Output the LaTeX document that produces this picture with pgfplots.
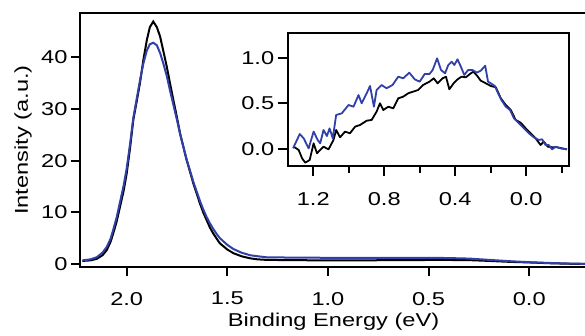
\documentclass[border=0pt]{standalone}
\usepackage{pgfplots}
\pgfplotsset{compat=1.18}
\usepackage{fontspec}
\setmainfont{Liberation Sans}[FakeStretch=1.27]
\definecolor{myblue}{RGB}{48,64,168}
\pgfplotsset{
  myax/.style={
    scale only axis,
    x dir=reverse,
    axis line style={line width=2pt, black},
    tick style={line width=2pt, black},
    tick align=outside,
    xtick pos=bottom, ytick pos=left,
    /pgf/number format/assume math mode=true,
    /pgf/number format/fixed,
    /pgf/number format/fixed zerofill,
    /pgf/number format/precision=1,
    tick label style={font=\fontsize{18.6}{22}\selectfont},
    label style={font=\fontsize{18.6}{22}\selectfont},
    clip=false,
  }
}
\begin{document}
\begin{tikzpicture}
\path[use as bounding box] (0pt,0pt) rectangle (585pt,335pt);
\begin{axis}[myax,
  at={(80pt,68pt)}, anchor=south west,
  width=507pt, height=254pt,
  xmin=-0.287, xmax=2.232, ymin=-0.58, ymax=48.55,
  xtick={0,0.5,1,1.5,2},
  ytick={0,10,20,30,40},
  yticklabel style={/pgf/number format/precision=0, /pgf/number format/fixed zerofill=false},
  xticklabel style={yshift=-12.5pt},
  major tick length=9pt,
  xlabel={Binding Energy (eV)},
  ylabel={Intensity (a.u.)},
  xlabel style={at={(axis description cs:0.5,0)}, anchor=north, yshift=-42.5pt},
  ylabel style={at={(axis description cs:-0.1124,0.5)}, anchor=center},
  every axis plot/.append style={line width=2pt},
]
\addplot[black] coordinates {
(2.22,0.6)(2.18,0.7)(2.149,1.0)(2.12,1.7)(2.099,2.7)(2.08,4.3)(2.067,5.9)(2.05,8.2)
(2.033,11.1)(2.015,14.2)(2.0,17.5)(1.983,22.5)(1.967,27.9)(1.95,31.5)(1.934,35.0)
(1.917,39.5)(1.9,43.3)(1.885,45.8)(1.868,46.9)(1.85,45.8)(1.834,44.0)(1.818,41.2)
(1.801,38.2)(1.785,35.0)(1.768,31.7)(1.751,28.5)(1.735,25.3)(1.718,22.6)(1.702,20.1)
(1.685,17.8)(1.669,15.6)(1.652,13.6)(1.636,11.7)(1.62,10.0)(1.603,8.5)(1.587,7.1)
(1.570,5.9)(1.553,4.9)(1.537,4.0)(1.5,2.8)(1.47,2.1)(1.43,1.5)(1.387,1.1)(1.35,0.9)
(1.305,0.8)(1.2,0.75)(1.0,0.7)(0.8,0.72)(0.6,0.75)(0.5,0.78)(0.4,0.78)(0.3,0.75)
(0.2,0.6)(0.1,0.42)(0.0,0.3)(-0.1,0.15)(-0.2,0.05)(-0.287,0.0)
};
\addplot[myblue] coordinates {
(2.22,0.7)(2.18,0.9)(2.149,1.3)(2.12,2.2)(2.099,3.3)(2.08,4.9)(2.067,6.6)(2.05,9.0)
(2.033,12.0)(2.015,15.2)(2.0,18.5)(1.983,23.3)(1.967,28.3)(1.95,32.0)(1.934,35.5)
(1.917,38.8)(1.9,41.3)(1.885,42.5)(1.868,42.8)(1.85,42.3)(1.834,40.8)(1.818,38.8)
(1.801,36.4)(1.785,33.6)(1.768,30.8)(1.751,28.0)(1.735,25.2)(1.718,22.6)(1.702,20.2)
(1.685,18.0)(1.669,15.9)(1.652,14.0)(1.636,12.2)(1.62,10.6)(1.603,9.1)(1.587,7.9)
(1.570,6.8)(1.553,5.8)(1.537,5.0)(1.5,3.7)(1.47,2.9)(1.43,2.2)(1.387,1.7)(1.35,1.5)
(1.305,1.3)(1.2,1.25)(1.0,1.2)(0.8,1.2)(0.6,1.2)(0.5,1.2)(0.4,1.15)(0.3,1.05)
(0.2,0.8)(0.1,0.55)(0.0,0.35)(-0.1,0.2)(-0.2,0.08)(-0.287,0.03)
};
\end{axis}
\begin{axis}[myax,
  at={(287.7pt,169.3pt)}, anchor=south west,
  width=281.6pt, height=132.4pt,
  axis background/.style={fill=white},
  xmin=-0.243, xmax=1.344, ymin=-0.183, ymax=1.267,
  xtick={0,0.4,0.8,1.2},
  minor xtick={-0.2,0.2,0.6,1.0},
  ytick={0,0.5,1},
  xticklabel style={yshift=-13.5pt},
  major tick length=10pt,
  minor tick length=7pt,
  every axis plot/.append style={line width=1.8pt, line join=round},
]
\addplot[black] coordinates {
(1.310,0.025)(1.282,-0.011)(1.263,-0.102)(1.245,-0.150)(1.220,-0.120)(1.198,0.062)
(1.179,-0.047)(1.161,-0.011)(1.142,0.025)(1.114,-0.004)(1.086,0.099)(1.071,0.208)
(1.049,0.128)(1.021,0.190)(0.993,0.172)(0.964,0.245)(0.936,0.263)(0.899,0.310)
(0.871,0.318)(0.843,0.409)(0.824,0.5)(0.805,0.427)(0.777,0.463)(0.749,0.445)
(0.721,0.555)(0.693,0.573)(0.665,0.610)(0.637,0.628)(0.609,0.646)(0.581,0.701)
(0.545,0.737)(0.521,0.774)(0.499,0.719)(0.471,0.774)(0.452,0.792)(0.433,0.654)
(0.409,0.719)(0.387,0.763)(0.364,0.792)(0.340,0.785)(0.312,0.829)(0.297,0.847)
(0.276,0.800)(0.256,0.748)(0.227,0.719)(0.199,0.690)(0.171,0.676)(0.143,0.555)
(0.115,0.482)(0.087,0.427)(0.059,0.318)(0.031,0.288)(0.003,0.227)(-0.025,0.172)
(-0.053,0.117)(-0.081,0.044)(-0.099,0.080)(-0.122,0.025)(-0.146,0.019)(-0.174,0.019)
(-0.202,0.007)(-0.230,-0.004)
};
\addplot[myblue] coordinates {
(1.314,0.007)(1.276,0.164)(1.254,0.117)(1.226,0.007)(1.198,0.19)(1.175,0.099)
(1.161,0.062)(1.142,0.208)(1.123,0.142)(1.108,0.226)(1.090,0.117)(1.071,0.372)
(1.039,0.391)(1.001,0.482)(0.973,0.463)(0.945,0.591)(0.927,0.5)(0.899,0.610)
(0.880,0.690)(0.858,0.463)(0.843,0.646)(0.815,0.701)(0.787,0.665)(0.753,0.701)
(0.721,0.792)(0.693,0.774)(0.659,0.836)(0.628,0.763)(0.600,0.737)(0.572,0.821)
(0.545,0.821)(0.527,0.865)(0.502,0.993)(0.480,0.865)(0.457,0.829)(0.439,0.920)
(0.420,0.956)(0.405,0.920)(0.387,0.982)(0.368,0.901)(0.349,0.811)(0.327,0.865)
(0.303,0.865)(0.278,0.836)(0.256,0.858)(0.231,0.912)(0.215,0.737)(0.199,0.719)
(0.177,0.690)(0.158,0.610)(0.140,0.537)(0.115,0.463)(0.091,0.427)(0.069,0.336)
(0.041,0.281)(0.013,0.227)(-0.015,0.172)(-0.043,0.128)(-0.071,0.099)(-0.090,0.106)
(-0.109,0.044)(-0.127,0.044)(-0.146,-0.004)(-0.165,0.025)(-0.193,0.007)(-0.230,-0.004)
};
\end{axis}
\end{tikzpicture}
\end{document}
